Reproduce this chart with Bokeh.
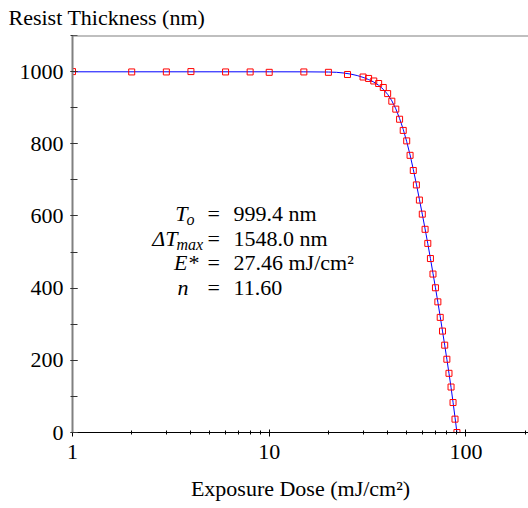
from bokeh.plotting import figure
from bokeh.models import (ColumnDataSource, Label, Span, FixedTicker, SingleIntervalTicker,
                          BasicTickFormatter)
from bokeh.embed import file_html
from bokeh.resources import INLINE

# ---- data ----
dose = [1, 2, 3, 4, 6, 8, 10, 15, 20, 25,
        30, 32, 34, 36, 38, 40, 42, 44, 46, 48,
        50, 52, 54, 56, 58, 60, 62, 64, 66, 68,
        70, 72, 74, 76, 78, 80, 82, 84, 86, 88, 90]
thickness = [1000, 999, 999, 1000, 999, 999, 998, 999, 998, 992,
             985, 981, 974, 967, 956, 939, 918, 896, 868, 837,
             808, 768, 726, 686, 644, 605, 563, 524, 482, 439,
             401, 362, 319, 281, 242, 203, 164, 126, 83, 37, 0]

fit_dose = [1, 5, 10, 15, 20, 22, 24, 26, 28, 30, 32, 34, 36, 38, 40, 42, 44, 46, 48,
            50, 52, 54, 56, 58, 60, 62, 64, 66, 68, 70, 72, 74, 76, 78, 80, 82, 84, 86, 88, 90]
fit_thickness = [999.4, 999.4, 999.4, 999.3, 998.8, 998, 996, 993, 989, 984, 978, 971, 962,
                 951, 937, 919, 897, 870, 840, 806, 769, 729, 688, 646, 605, 564, 523, 482,
                 441, 401, 361, 321, 281, 242, 203, 164, 125, 84, 42, 0]

x_major_ticks = [1, 10, 100]
x_minor_ticks = [2, 3, 4, 5, 6, 7, 8, 9, 20, 30, 40, 50, 60, 70, 80, 90, 200]
x_min, x_max = 1, 208
y_min, y_max = 0, 1100

FONT = "Liberation Serif"
FS = "22px"

p = figure(width=528, height=508, x_axis_type="log",
           x_range=(x_min, x_max), y_range=(y_min, y_max),
           toolbar_location=None, output_backend="svg",
           min_border_left=72, min_border_top=35, min_border_right=0, min_border_bottom=76)
p.outline_line_color = None
p.grid.visible = False
p.background_fill_color = "white"
p.border_fill_color = "white"

# y-axis title shown as a plot title at the top left
p.title.text = "Resist Thickness (nm)"
p.title.text_font = FONT
p.title.text_font_size = FS
p.title.text_font_style = "normal"
p.title.text_color = "black"
p.title.align = "left"
p.title.vertical_align = "top"
p.title.offset = -64
p.title.standoff = 8

# top border line
p.add_layout(Span(location=y_max, dimension="width", line_color="#808080", line_width=2))

# fitted curve and data
p.line(fit_dose, fit_thickness, line_color="blue", line_width=1)
src = ColumnDataSource(dict(x=dose, y=thickness))
p.scatter("x", "y", source=src, marker="square", size=6, fill_color=None,
          line_color="red", line_width=1)

# x axis
xa = p.xaxis[0]
xa.ticker = FixedTicker(ticks=x_major_ticks, minor_ticks=x_minor_ticks)
xa.formatter = BasicTickFormatter()
xa.axis_line_color = "black"
xa.axis_line_width = 1
xa.major_tick_in = 3
xa.major_tick_out = 4
xa.minor_tick_in = 2
xa.minor_tick_out = 2
xa.major_tick_line_color = "black"
xa.minor_tick_line_color = "black"
xa.major_label_text_font = FONT
xa.major_label_text_font_size = FS
xa.major_label_text_color = "black"
xa.major_label_standoff = 8
xa.axis_label = "Exposure Dose (mJ/cm²)"
xa.axis_label_text_font = FONT
xa.axis_label_text_font_size = FS
xa.axis_label_text_font_style = "normal"
xa.axis_label_text_color = "black"
xa.axis_label_standoff = 14

# y axis
ya = p.yaxis[0]
ya.ticker = SingleIntervalTicker(interval=200, num_minor_ticks=2)
ya.axis_line_color = "#808080"
ya.axis_line_width = 2
ya.major_tick_in = 5
ya.major_tick_out = 2
ya.minor_tick_in = 5
ya.minor_tick_out = 2
ya.major_tick_line_color = "#333333"
ya.minor_tick_line_color = "#333333"
ya.major_label_text_font = FONT
ya.major_label_text_font_size = FS
ya.major_label_text_color = "black"
ya.major_label_standoff = 7

# ---- fit-parameter text (screen units relative to the frame) ----
def lab(x, y, text, size=FS, style="normal", align="left"):
    p.add_layout(Label(x=x, y=y, x_units="screen", y_units="screen", text=text,
                       text_font=FONT, text_font_size=size, text_font_style=style,
                       text_align=align, text_baseline="alphabetic", text_color="black"))

rows = [219, 194, 170, 145]
# T_o
lab(115, rows[0], "T", style="italic", align="right")
lab(114, rows[0] - 6, "o", size="16px", style="italic")
# ΔT_max
lab(105, rows[1], "ΔT", style="italic", align="right")
lab(104, rows[1] - 6, "max", size="16px", style="italic")
# E*
lab(126, rows[2], "E*", style="italic", align="right")
# n
lab(116, rows[3], "n", style="italic", align="right")

for r in rows:
    lab(135, r, "=")
lab(161, rows[0], "999.4 nm")
lab(161, rows[1], "1548.0 nm")
lab(161, rows[2], "27.46 mJ/cm²")
lab(161, rows[3], "11.60")

open("out.html", "w").write(file_html(p, INLINE))
